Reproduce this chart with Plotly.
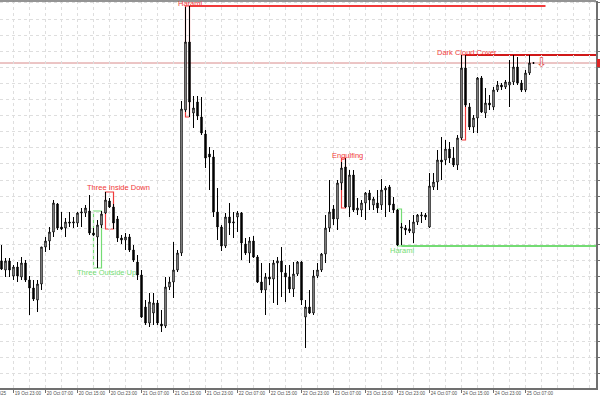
import plotly.graph_objects as go

# ---- candle data (price units; one candle per hour) ----
opens = [139,130,139,124,133,123,137,120,112,100,116,153,159,168,196,173,172,178,177,177,
         187,187,189,167,163,175,187,199,193,181,162,160,163,150,138,125,93,77,87,97,
         76,74,113,118,130,147,290,358,287,298,283,266,246,243,188,173,154,183,177,183,
         187,156,147,159,143,118,110,123,121,137,139,127,123,111,126,138,83,93,87,124,
         130,146,172,191,181,217,233,193,225,190,190,197,207,195,197,195,210,213,196,190,
         172,172,171,167,178,184,185,173,213,218,240,240,251,242,235,262,332,293,273,282,
         322,287,297,293,310,315,313,315,318,333,317,310,327,337]
highs = [155,142,142,135,138,143,140,124,120,120,153,163,173,200,197,188,182,188,183,188,
         192,195,205,172,180,189,208,202,196,184,165,167,166,155,145,130,100,107,107,100,
         90,123,123,158,150,299,393,394,304,304,303,270,253,250,212,175,187,197,188,189,
         188,162,163,164,145,137,127,137,140,143,153,135,135,138,139,139,100,110,130,137,
         147,185,220,195,220,238,242,230,230,202,200,208,210,203,210,221,214,215,203,191,
         177,175,180,185,186,188,187,227,227,250,263,260,258,253,265,345,345,297,285,323,
         324,312,305,313,319,317,320,340,345,343,320,330,345,338]
lows = [130,123,123,120,118,120,118,85,99,88,110,148,150,163,170,170,163,173,172,173,
        173,183,165,164,132,172,186,192,171,158,156,150,148,138,120,82,75,73,75,75,
        68,72,110,102,128,144,288,283,272,280,265,232,210,183,160,149,152,165,162,168,
        140,145,137,142,117,107,85,115,97,95,103,98,107,103,124,95,52,86,85,122,
        128,137,168,175,170,210,192,183,188,185,183,180,190,190,187,190,183,188,187,154,
        155,165,167,157,175,177,180,172,210,210,220,235,237,233,230,260,293,270,267,267,
        287,282,290,290,308,310,311,293,315,315,308,308,325,336]
closes = [131,139,130,133,124,137,120,112,101,116,153,159,168,197,172,171,178,177,178,187,
          188,192,167,165,175,186,200,193,177,162,160,163,150,140,125,83,77,98,97,77,
          74,113,118,130,147,291,358,298,292,284,267,242,243,188,173,154,183,177,178,187,
          157,147,159,143,118,110,123,121,137,139,128,123,111,126,138,100,93,87,124,130,
          146,172,188,181,217,232,193,225,190,192,197,207,200,201,192,210,212,195,190,155,
          173,170,169,178,185,185,183,214,218,240,238,251,242,235,262,332,295,273,282,322,
          288,297,295,310,315,313,318,318,333,317,310,327,337,337]

# x-axis labels (every 8 candles)
label_pos = [3, 11, 19, 27, 35, 43, 51, 59, 67, 75, 83, 91, 99, 107, 115, 123, 131]
label_text = ["19 Oct 23:00", "20 Oct 07:00", "20 Oct 15:00", "20 Oct 23:00",
              "21 Oct 07:00", "21 Oct 15:00", "21 Oct 23:00", "22 Oct 07:00",
              "22 Oct 15:00", "22 Oct 23:00", "23 Oct 07:00", "23 Oct 15:00",
              "23 Oct 23:00", "24 Oct 07:00", "24 Oct 15:00", "24 Oct 23:00",
              "25 Oct 07:00"]
grid_minor = [7, 15, 23, 31, 39, 47, 55, 63, 71, 79, 87, 95, 103, 111, 119, 127,
              135, 139, 143, 147]

# candlestick patterns: (name, first candle, last candle, bullish?, line end)
patterns = [
    ("Three Outside Up", 23, 25, True, None),
    ("Three Inside Down", 26, 28, False, None),
    ("Harami", 46, 47, False, 136),
    ("Engulfing", 85, 86, False, None),
    ("Harami", 99, 100, True, 148.75),
    ("Dark Cloud Cover", 115, 116, False, 148.75),
]
text_pos = [(26.25, 128), (29.25, 213), (47.25, 397), (86.4, 245), (100.25, 150), (116.25, 348)]

RED = "#f03a3a"
DARKRED = "#d01818"
GREEN = "#74dc74"

n = len(opens)
xs = list(range(n))

fig = go.Figure()
fig.add_trace(go.Candlestick(
    x=xs, open=opens, high=highs, low=lows, close=closes,
    increasing=dict(line=dict(color="#000000", width=1), fillcolor="#ffffff"),
    decreasing=dict(line=dict(color="#000000", width=1), fillcolor="#000000"),
    whiskerwidth=0, showlegend=False, hoverinfo="skip"))

shapes = []
annotations = []
for (name, s, e, bull, lend), (tx, ty) in zip(patterns, text_pos):
    top = max(highs[s:e + 1])
    bot = min(lows[s:e + 1])
    col = GREEN if bull else RED
    shapes.append(dict(type="rect", xref="x", yref="y", x0=s, x1=e, y0=bot, y1=top,
                       line=dict(color=col, width=1.2), fillcolor="rgba(0,0,0,0)",
                       layer="below"))
    if lend is not None:
        ly = bot if bull else top
        lc = GREEN if bull else (DARKRED if name == "Dark Cloud Cover" else RED)
        shapes.append(dict(type="line", xref="x", yref="y", x0=e, x1=lend, y0=ly, y1=ly,
                           line=dict(color=lc, width=2), layer="below"))
    annotations.append(dict(x=tx, y=ty, xref="x", yref="y", text=name, showarrow=False,
                            font=dict(family="Liberation Sans", size=7.5, color=col),
                            xanchor="center", yanchor="middle"))

last = closes[-1]
# bid line
shapes.append(dict(type="line", xref="paper", yref="y", x0=0, x1=1, y0=last, y1=last,
                   line=dict(color="#d88a8a", width=1), layer="below"))
# price label box at right edge
shapes.append(dict(type="rect", xref="paper", yref="y", x0=1.0017, x1=1.02,
                   y0=last - 4, y1=last + 4, line=dict(width=0), fillcolor="#e02424"))
# top border
shapes.append(dict(type="line", xref="paper", yref="paper", x0=0, x1=1, y0=1, y1=1,
                   line=dict(color="#707070", width=1.5)))
# sell arrow
annotations.append(dict(x=135, y=last + 1, xref="x", yref="y", text="⇩", showarrow=False,
                        font=dict(family="DejaVu Sans", size=13, color="#e04848"),
                        xanchor="center", yanchor="middle"))
# clipped first date label
annotations.append(dict(x=0, y=0, xref="paper", yref="paper", text="19 Oct 2025",
                        showarrow=False, xanchor="right", yanchor="top", xshift=8, yshift=-1,
                        font=dict(family="Liberation Sans", size=4.6, color="#505050")))

grid_style = dict(showgrid=True, gridcolor="#dedede", griddash="dot", gridwidth=1)

fig.update_layout(
    width=600, height=400,
    margin=dict(l=0, r=4, t=1, b=12, autoexpand=False),
    paper_bgcolor="white", plot_bgcolor="white",
    boxgap=0.5,
    shapes=shapes, annotations=annotations,
    xaxis=dict(range=[-0.375, 148.625], rangeslider=dict(visible=False), automargin=False,
               tickmode="array", tickvals=label_pos, ticktext=label_text, tickangle=0,
               ticklabelposition="outside right",
               tickfont=dict(family="Liberation Sans", size=4.6, color="#505050"),
               ticks="outside", ticklen=3, tickcolor="#707070",
               showline=True, linecolor="#707070", linewidth=1.5,
               minor=dict(tickmode="array", tickvals=grid_minor, ticks="",
                          showgrid=True, gridcolor="#dedede", griddash="dot"),
               zeroline=False, **grid_style),
    yaxis=dict(range=[12, 399], side="right", tickmode="linear", tick0=381, dtick=16.1,
               automargin=False,
               ticks="outside", ticklen=4, tickcolor="#707070",
               tickfont=dict(family="Liberation Sans", size=8, color="#505050"),
               showline=True, linecolor="#707070", linewidth=1.5,
               zeroline=False, **grid_style),
)

fig.write_html("out.html", config={"displayModeBar": False, "staticPlot": True},
               post_script="document.body.style.margin='0';document.body.style.overflow='hidden';")
